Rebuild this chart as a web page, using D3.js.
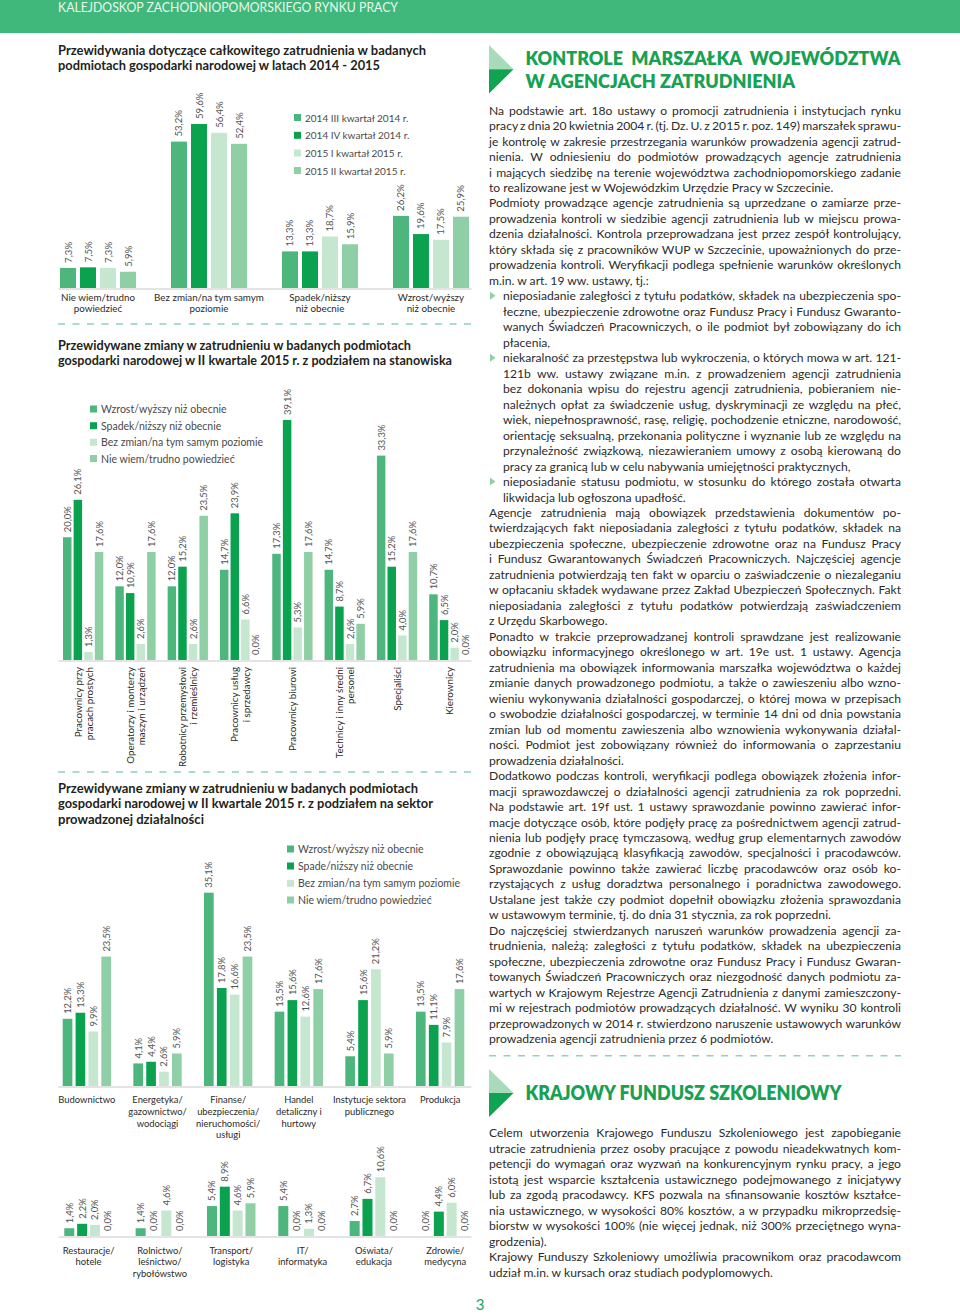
<!DOCTYPE html>
<html lang="pl"><head><meta charset="utf-8">
<script src="https://cdn.jsdelivr.net/npm/d3@7/dist/d3.min.js"></script>
<style>
html,body{margin:0;padding:0;background:#fff;}
svg{display:block;}
text{font-family:Lato,"Open Sans",sans-serif;}
.pre{white-space:pre;}
</style></head><body>
<svg id="page" width="960" height="1314"></svg>
<script>
// ================= DATA =================
const headerText = "KALEJDOSKOP ZACHODNIOPOMORSKIEGO RYNKU PRACY";

// Chart 1
const c1Title = ["Przewidywania dotyczące całkowitego zatrudnienia w badanych",
                 "podmiotach gospodarki narodowej w latach 2014 - 2015"];
const c1Categories = ["Nie wiem/trudno|powiedzieć","Bez zmian/na tym samym|poziomie","Spadek/niższy|niż obecnie","Wzrost/wyższy|niż obecnie"];
const c1Series = ["2014 III kwartał 2014 r.","2014 IV kwartał 2014 r.","2015 I kwartał 2015 r.","2015 II kwartał 2015 r."];
const c1NieWiem  = [7.3, 7.5, 7.3, 5.9];
const c1BezZmian = [53.2, 59.6, 56.4, 52.4];
const c1Spadek   = [13.3, 13.3, 18.7, 15.9];
const c1Wzrost   = [26.2, 19.6, 17.5, 25.9];

// Chart 2
const c2Title = ["Przewidywane zmiany w zatrudnieniu w badanych podmiotach",
                 "gospodarki narodowej w II kwartale 2015 r. z podziałem na stanowiska"];
const c2Categories = ["Pracownicy przy|pracach prostych","Operatorzy i monterzy|maszyn i urządzeń","Robotnicy przemysłowi|i rzemieślnicy","Pracownicy usług|i sprzedawcy","Pracownicy biurowi","Technicy i inny średni|personel","Specjaliści","Kierownicy"];
const c2Series = ["Wzrost/wyższy niż obecnie","Spadek/niższy niż obecnie","Bez zmian/na tym samym poziomie","Nie wiem/trudno powiedzieć"];
const c2Wzrost    = [20.0, 12.0, 12.0, 14.7, 17.3, 14.7, 33.3, 10.7];
const c2Spadek    = [26.1, 10.9, 15.2, 23.9, 39.1, 8.7, 15.2, 6.5];
const c2BezZmian  = [1.3, 2.6, 2.6, 6.6, 5.3, 2.6, 4.0, 2.0];
const c2NieWiem   = [17.6, 17.6, 23.5, 0.0, 17.6, 5.9, 17.6, 0.0];

// Chart 3
const c3Title = ["Przewidywane zmiany w zatrudnieniu w badanych podmiotach",
                 "gospodarki narodowej w II kwartale 2015 r. z podziałem na sektor",
                 "prowadzonej działalności"];
const c3Series = ["Wzrost/wyższy niż obecnie","Spade/niższy niż obecnie","Bez zmian/na tym samym poziomie","Nie wiem/trudno powiedzieć"];
const c3aCategories = ["Budownictwo","Energetyka/|gazownictwo/|wodociągi","Finanse/|ubezpieczenia/|nieruchomości/|usługi","Handel|detaliczny i|hurtowy","Instytucje sektora|publicznego","Produkcja"];
const c3aWzrost   = [12.2, 4.1, 35.1, 13.5, 5.4, 13.5];
const c3aSpadek   = [13.3, 4.4, 17.8, 15.6, 15.6, 11.1];
const c3aBezZmian = [9.9, 2.6, 16.6, 12.6, 21.2, 7.9];
const c3aNieWiem  = [23.5, 5.9, 23.5, 17.6, 5.9, 17.6];
const c3bCategories = ["Restauracje/|hotele","Rolnictwo/|leśnictwo/|rybołówstwo","Transport/|logistyka","IT/|informatyka","Oświata/|edukacja","Zdrowie/|medycyna"];
const c3bWzrost   = [1.4, 1.4, 5.4, 5.4, 2.7, 0.0];
const c3bSpadek   = [2.2, 0.0, 8.9, 0.0, 6.7, 4.4];
const c3bBezZmian = [2.0, 4.6, 4.6, 1.3, 10.6, 6.0];
const c3bNieWiem  = [0.0, 0.0, 5.9, 0.0, 0.0, 0.0];

// Right column
const head1 = ["KONTROLE  MARSZAŁKA  WOJEWÓDZTWA","W AGENCJACH ZATRUDNIENIA"];
const text1 = [
 ["Na podstawie art. 18o ustawy o promocji zatrudnienia i instytucjach rynku","j"],
 ["pracy z dnia 20 kwietnia 2004 r. (tj. Dz. U. z 2015 r. poz. 149) marszałek sprawu-","j"],
 ["je kontrolę w zakresie przestrzegania warunków prowadzenia agencji zatrud-","j"],
 ["nienia. W odniesieniu do podmiotów prowadzących agencje zatrudnienia","j"],
 ["i mających siedzibę na terenie województwa zachodniopomorskiego zadanie","j"],
 ["to realizowane jest w Wojewódzkim Urzędzie Pracy w Szczecinie.","l"],
 ["Podmioty prowadzące agencje zatrudnienia są uprzedzane o zamiarze prze-","j"],
 ["prowadzenia kontroli w siedzibie agencji zatrudnienia lub w miejscu prowa-","j"],
 ["dzenia działalności. Kontrola przeprowadzana jest przez zespół kontrolujący,","j"],
 ["który składa się z pracowników WUP w Szczecinie, upoważnionych do prze-","j"],
 ["prowadzenia kontroli. Weryfikacji podlega spełnienie warunków określonych","j"],
 ["m.in. w art. 19 ww. ustawy, tj.:","l"],
 ["nieposiadanie zaległości z tytułu podatków, składek na ubezpieczenia spo-","bj"],
 ["łeczne, ubezpieczenie zdrowotne oraz Fundusz Pracy i Fundusz Gwaranto-","ij"],
 ["wanych Świadczeń Pracowniczych, o ile podmiot był zobowiązany do ich","ij"],
 ["płacenia,","il"],
 ["niekaralność za przestępstwa lub wykroczenia, o których mowa w art. 121-","bj"],
 ["121b ww. ustawy związane m.in. z prowadzeniem agencji zatrudnienia","ij"],
 ["bez dokonania wpisu do rejestru agencji zatrudnienia, pobieraniem nie-","ij"],
 ["należnych opłat za świadczenie usług, dyskryminacji ze względu na płeć,","ij"],
 ["wiek, niepełnosprawność, rasę, religię, pochodzenie etniczne, narodowość,","ij"],
 ["orientację seksualną, przekonania polityczne i wyznanie lub ze względu na","ij"],
 ["przynależność związkową, niezawieraniem umowy z osobą kierowaną do","ij"],
 ["pracy za granicą lub w celu nabywania umiejętności praktycznych,","il"],
 ["nieposiadanie statusu podmiotu, w stosunku do którego została otwarta","bj"],
 ["likwidacja lub ogłoszona upadłość.","il"],
 ["Agencje zatrudnienia mają obowiązek przedstawienia dokumentów po-","j"],
 ["twierdzających fakt nieposiadania zaległości z tytułu podatków, składek na","j"],
 ["ubezpieczenia społeczne, ubezpieczenie zdrowotne oraz na Fundusz Pracy","j"],
 ["i Fundusz Gwarantowanych Świadczeń Pracowniczych. Najczęściej agencje","j"],
 ["zatrudnienia potwierdzają ten fakt w oparciu o zaświadczenie o niezaleganiu","j"],
 ["w opłacaniu składek wydawane przez Zakład Ubezpieczeń Społecznych. Fakt","j"],
 ["nieposiadania zaległości z tytułu podatków potwierdzają zaświadczeniem","j"],
 ["z Urzędu Skarbowego.","l"],
 ["Ponadto w trakcie przeprowadzanej kontroli sprawdzane jest realizowanie","j"],
 ["obowiązku informacyjnego określonego w art. 19e ust. 1 ustawy. Agencja","j"],
 ["zatrudnienia ma obowiązek informowania marszałka województwa o każdej","j"],
 ["zmianie danych prowadzonego podmiotu, a także o zawieszeniu albo wzno-","j"],
 ["wieniu wykonywania działalności gospodarczej, o której mowa w przepisach","j"],
 ["o swobodzie działalności gospodarczej, w terminie 14 dni od dnia powstania","j"],
 ["zmian lub od momentu zawieszenia albo wznowienia wykonywania działal-","j"],
 ["ności. Podmiot jest zobowiązany również do informowania o zaprzestaniu","j"],
 ["prowadzenia działalności.","l"],
 ["Dodatkowo podczas kontroli, weryfikacji podlega obowiązek złożenia infor-","j"],
 ["macji sprawozdawczej o działalności agencji zatrudnienia za rok poprzedni.","j"],
 ["Na podstawie art. 19f ust. 1 ustawy sprawozdanie powinno zawierać infor-","j"],
 ["macje dotyczące osób, które podjęły pracę za pośrednictwem agencji zatrud-","j"],
 ["nienia lub podjęły pracę tymczasową, według grup elementarnych zawodów","j"],
 ["zgodnie z obowiązującą klasyfikacją zawodów, specjalności i pracodawców.","j"],
 ["Sprawozdanie powinno także zawierać liczbę pracodawców oraz osób ko-","j"],
 ["rzystających z usług doradztwa personalnego i poradnictwa zawodowego.","j"],
 ["Ustalane jest także czy podmiot dopełnił obowiązku złożenia sprawozdania","j"],
 ["w ustawowym terminie, tj. do dnia 31 stycznia, za rok poprzedni.","l"],
 ["Do najczęściej stwierdzanych naruszeń warunków prowadzenia agencji za-","j"],
 ["trudnienia, należą: zaległości z tytułu podatków, składek na ubezpieczenia","j"],
 ["społeczne, ubezpieczenia zdrowotne  oraz Fundusz Pracy i Fundusz Gwaran-","j"],
 ["towanych Świadczeń Pracowniczych oraz niezgodność danych podmiotu za-","j"],
 ["wartych w Krajowym Rejestrze Agencji Zatrudnienia z danymi zamieszczony-","j"],
 ["mi w rejestrach podmiotów prowadzących działalność. W wyniku 30 kontroli","j"],
 ["przeprowadzonych w 2014 r. stwierdzono naruszenie ustawowych warunków","j"],
 ["prowadzenia agencji zatrudnienia przez 6 podmiotów.","l"]
];
const head2 = ["KRAJOWY FUNDUSZ SZKOLENIOWY"];
const text2 = [
 ["Celem utworzenia Krajowego Funduszu Szkoleniowego jest zapobieganie","j"],
 ["utracie zatrudnienia przez osoby pracujące z powodu nieadekwatnych kom-","j"],
 ["petencji do wymagań oraz wyzwań na konkurencyjnym rynku pracy, a jego","j"],
 ["istotą jest wsparcie kształcenia ustawicznego podejmowanego  z inicjatywy","j"],
 ["lub za zgodą pracodawcy. KFS pozwala na sfinansowanie kosztów kształce-","j"],
 ["nia ustawicznego, w wysokości 80% kosztów, a w przypadku mikroprzedsię-","j"],
 ["biorstw w wysokości 100% (nie więcej jednak, niż 300% przeciętnego wyna-","j"],
 ["grodzenia).","l"],
 ["Krajowy Funduszy Szkoleniowy umożliwia pracownikom oraz pracodawcom","j"],
 ["udział m.in. w kursach oraz studiach podyplomowych.","l"]
];
const pageNumber = "3";

// ================= DRAWING =================
const svg = d3.select("#page");
const COLORS = ["#4cb67d", "#0ba24f", "#c5e7cf", "#8ecfa6"];
const TXT = "#2b2b2b";
const fmt = v => d3.format(".1f")(v).replace(".", ",") + "%";
const transpose = arrs => arrs[0].map((_, i) => arrs.map(a => a[i]));

// header bar
svg.append("rect").attr("x", 0).attr("y", 0).attr("width", 960).attr("height", 33).attr("fill", "#40b87b");
svg.append("text").attr("x", 58).attr("y", 11.5).attr("font-size", 13).attr("fill", "#eaf7ef")
  .attr("textLength", 340).attr("lengthAdjust", "spacingAndGlyphs").text(headerText);

function title(lines, y0, widths) {
  lines.forEach((t, i) => {
    svg.append("text").attr("x", 58).attr("y", y0 + i * 15.8).attr("font-size", 12.5)
      .attr("font-weight", 700).attr("fill", "#231f20")
      .attr("textLength", widths[i]).attr("lengthAdjust", "spacingAndGlyphs").text(t);
  });
}

function legend(items, x, ys, fs) {
  items.forEach((t, i) => {
    svg.append("rect").attr("x", x).attr("y", ys[i] - 3.5).attr("width", 7).attr("height", 7).attr("fill", COLORS[i]);
    svg.append("text").attr("x", x + 11).attr("y", ys[i]).attr("dominant-baseline", "central")
      .attr("font-size", fs).attr("fill", "#4a4a4a").text(t);
  });
}

function dashed(x1, x2, y) {
  svg.append("line").attr("x1", x1).attr("x2", x2).attr("y1", y).attr("y2", y)
    .attr("stroke", "#93d1b1").attr("stroke-width", 1.6).attr("stroke-dasharray", "7,7.5");
}

function bars(cfg) {
  const n = cfg.matrix.length;
  const x0 = d3.scaleBand().domain(d3.range(n)).range(cfg.xr).paddingInner(cfg.pin).paddingOuter(0);
  const x1 = d3.scaleBand().domain(d3.range(4)).range([0, x0.bandwidth()]).paddingInner(cfg.pbar).paddingOuter(0);
  const y = d3.scaleLinear().domain([0, cfg.vmax]).range([cfg.base, cfg.top]);
  const ax = d3.scaleLinear().domain([0, 1]).range([58, 471]);
  svg.append("g").attr("transform", `translate(0,${cfg.base + 0.5})`)
    .call(d3.axisBottom(ax).tickValues([]).tickSizeOuter(0))
    .select(".domain").attr("stroke", "#c8c8c8").attr("stroke-width", 1);
  const g = svg.append("g");
  const grp = g.selectAll("g").data(cfg.matrix).join("g").attr("transform", (d, i) => `translate(${x0(i)},0)`);
  grp.selectAll("rect").data(d => d).join("rect")
    .attr("x", (d, j) => x1(j)).attr("y", d => y(d))
    .attr("width", x1.bandwidth()).attr("height", d => cfg.base - y(d))
    .attr("fill", (d, j) => COLORS[j]);
  grp.selectAll("text").data(d => d).join("text")
    .attr("transform", (d, j) => `translate(${x1(j) + x1.bandwidth() / 2},${y(d) - cfg.gap}) rotate(-90)`)
    .attr("dominant-baseline", "central").attr("font-size", cfg.vfs).attr("fill", "#555").text(fmt);
  return { x0, x1, y };
}

function catLabels(scale, cats, y0, lh, fs) {
  cats.forEach((c, i) => {
    const cx = scale(i) + scale.bandwidth() / 2;
    c.split("|").forEach((ln, k) => {
      svg.append("text").attr("x", cx).attr("y", y0 + k * lh).attr("text-anchor", "middle")
        .attr("font-size", fs).attr("fill", TXT).text(ln);
    });
  });
}

// ---------- Chart 1 ----------
title(c1Title, 54.5, [368, 322]);
const s1 = bars({
  matrix: [c1NieWiem, c1BezZmian, c1Spadek, c1Wzrost],
  xr: [60, 469], pin: 0.315, pbar: 0.2,
  base: 288, vmax: 59.6, top: 124, gap: 5, vfs: 9.6
});
legend(c1Series, 294, [117.5, 135.3, 153, 170.5], 10);
catLabels(s1.x0, c1Categories, 300.5, 11.2, 9.8);
dashed(58, 471, 324);

// ---------- Chart 2 ----------
title(c2Title, 349.5, [353, 394]);
const s2 = bars({
  matrix: transpose([c2Wzrost, c2Spadek, c2BezZmian, c2NieWiem]),
  xr: [63, 469.5], pin: 0.23, pbar: 0.2,
  base: 660, vmax: 39.1, top: 420, gap: 5, vfs: 9.4
});
legend(c2Series, 90, [409, 425.7, 442.3, 458.5], 10.5);
c2Categories.forEach((c, i) => {
  const cx = s2.x0(i) + s2.x0.bandwidth() / 2;
  const lines = c.split("|");
  lines.forEach((ln, k) => {
    const off = (k - (lines.length - 1) / 2) * 11.2;
    svg.append("text").attr("transform", `translate(${cx + off},667) rotate(-90)`)
      .attr("text-anchor", "end").attr("dominant-baseline", "central")
      .attr("font-size", 9.8).attr("fill", TXT).text(ln);
  });
});
dashed(58, 471, 772);

// ---------- Chart 3 ----------
title(c3Title, 792.5, [360, 375, 146]);
legend(c3Series, 287, [849, 866, 883.3, 900], 10.5);
const s3a = bars({
  matrix: transpose([c3aWzrost, c3aSpadek, c3aBezZmian, c3aNieWiem]),
  xr: [62.7, 464.3], pin: 0.316, pbar: 0.25,
  base: 1086, vmax: 35.1, top: 892.7, gap: 5, vfs: 9.4
});
catLabels(s3a.x0, c3aCategories, 1103.3, 11.6, 9.4);
const s3b = bars({
  matrix: transpose([c3bWzrost, c3bSpadek, c3bBezZmian, c3bNieWiem]),
  xr: [64.3, 469.5], pin: 0.32, pbar: 0.22,
  base: 1236, vmax: 35.1, top: 1041.5, gap: 5, vfs: 9.4
});
catLabels(s3b.x0, c3bCategories, 1254, 11.4, 9.4);

// ---------- Right column ----------
function icon(yTop, yBot) {
  const ym = (yTop + yBot) / 2;
  svg.append("polygon").attr("points", `489,${yTop} 513.5,${ym} 489,${ym}`).attr("fill", "#a9dbbb");
  svg.append("polygon").attr("points", `489,${ym} 513.5,${ym} 489,${yBot}`).attr("fill", "#0ea452");
}
function headline(t, y, fs, w) {
  svg.append("text").attr("class", "pre").attr("x", 525.5).attr("y", y).attr("font-size", fs)
    .attr("font-weight", 800).attr("fill", "#18a153")
    .attr("textLength", w).attr("lengthAdjust", "spacingAndGlyphs").text(t);
}
icon(45, 93.5);
headline(head1[0], 65, 18, 375);
headline(head1[1], 87.5, 18, 269.5);

// calibrate body font size to the reference line width
const probe = svg.append("text").attr("font-size", 12).text(text1[5][0]);
const w0 = probe.node().getComputedTextLength();
probe.remove();
const BODY_FS = Math.max(10.5, Math.min(13.5, 12 * 345 / w0));

function block(lines, y0, step) {
  lines.forEach(([raw, k], i) => {
    const t0 = raw.replace(/\s+/g, " ");
    const yb = y0 + i * step;
    const indent = k.includes("i") || k.includes("b");
    const x = indent ? 503 : 489;
    const t = svg.append("text").attr("x", x).attr("y", yb).attr("font-size", BODY_FS)
      .attr("fill", TXT).text(t0);
    if (k.includes("j")) {
      const w = t.node().getComputedTextLength();
      const sp = (t0.match(/ /g) || []).length;
      const target = 901 - x;
      if (sp > 0) t.style("word-spacing", ((target - w) / sp).toFixed(3) + "px");
      const bw = t.node().getBBox().width;
      if (Math.abs(bw - target) > 3) {
        t.style("word-spacing", null).attr("textLength", target).attr("lengthAdjust", "spacing");
      }
    }
    if (k.includes("b")) {
      svg.append("polygon").attr("points", `490,${yb - 8.5} 495.5,${yb - 4.5} 490,${yb - 0.5}`).attr("fill", "#8fd0a6");
    }
  });
}
block(text1, 114.6, 15.477);
dashed(489, 901, 1055.7);

icon(1069, 1117);
headline(head2[0], 1100, 20, 316);
block(text2, 1137.3, 15.49);

svg.append("text").attr("x", 480).attr("y", 1310).attr("text-anchor", "middle").attr("font-size", 15)
  .attr("fill", "#1ea35a").text(pageNumber);
</script>
</body></html>
